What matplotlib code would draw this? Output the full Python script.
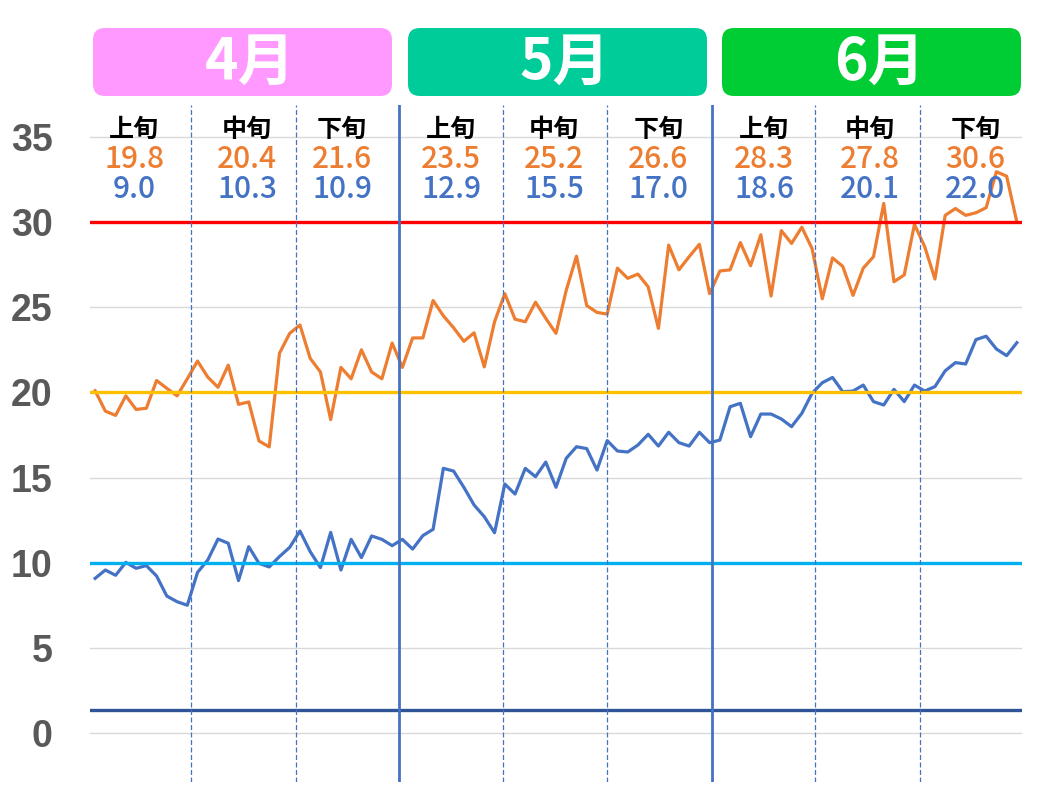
import matplotlib.pyplot as plt
from matplotlib.patches import FancyBboxPatch

# データ（4/1〜6/30 の日ごとの最高・最低気温）
max_temp = [20.1, 18.9, 18.65, 19.8, 19.0, 19.07, 20.7, 20.24, 19.8, 20.8,
            21.84, 20.9, 20.3, 21.6, 19.3, 19.44, 17.15, 16.8, 22.3, 23.47,
            23.96, 22.0, 21.2, 18.4, 21.47, 20.8, 22.5, 21.2, 20.8, 22.9,
            21.47, 23.2, 23.2, 25.4, 24.5, 23.8, 23.0, 23.5, 21.5, 24.15,
            25.8, 24.3, 24.15, 25.3, 24.35, 23.47, 26.0, 28.0, 25.1, 24.7,
            24.6, 27.3, 26.7, 26.95, 26.2, 23.76, 28.65, 27.2, 27.97, 28.7, 25.8,
            27.13, 27.2, 28.8, 27.44, 29.26, 25.66, 29.5, 28.75, 29.7, 28.45,
            25.5, 27.9, 27.4, 25.7, 27.3, 27.97, 31.1, 26.5, 26.9, 29.87,
            28.56, 26.66, 30.4, 30.8, 30.4, 30.55, 30.85, 32.96, 32.7, 30.0]
min_temp = [9.08, 9.57, 9.26, 10.02, 9.67, 9.83, 9.22, 8.04, 7.71, 7.5,
            9.43, 10.16, 11.39, 11.14, 8.95, 10.94, 9.96, 9.75, 10.36, 10.9,
            11.86, 10.65, 9.71, 11.78, 9.57, 11.37, 10.3, 11.57, 11.37, 11.0,
            11.37, 10.8, 11.59, 11.96, 15.54, 15.38, 14.43, 13.39, 12.7, 11.76,
            14.62, 14.03, 15.54, 15.05, 15.91, 14.43, 16.13, 16.81, 16.7, 15.44,
            17.17, 16.56, 16.5, 16.91, 17.54, 16.85, 17.66, 17.05, 16.85, 17.66, 17.05,
            17.2, 19.16, 19.36, 17.4, 18.73, 18.73, 18.44, 17.99, 18.77, 19.95,
            20.57, 20.88, 20.04, 20.08, 20.43, 19.46, 19.26, 20.18, 19.46, 20.43,
            20.08, 20.34, 21.27, 21.75, 21.67, 23.1, 23.3, 22.55, 22.16, 22.92]

months = ['4月', '5月', '6月']
month_colors = ['#FF99FF', '#00CC99', '#00CC33']
periods = ['上旬', '中旬', '下旬'] * 3
max_avg = ['19.8', '20.4', '21.6', '23.5', '25.2', '26.6', '28.3', '27.8', '30.6']
min_avg = ['9.0', '10.3', '10.9', '12.9', '15.5', '17.0', '18.6', '20.1', '22.0']
ref_lines = [30, 20, 10, 1.35]
ref_colors = ['#FF0000', '#FFC000', '#00B0F0', '#2F5597']

# 位置（日のインデックス）
dash_pos = [9.4, 19.6, 39.8, 50.0, 70.3, 80.5]
month_pos = [29.7, 60.2]
label_pos = [3.81, 14.84, 24.12, 34.77, 44.82, 54.98, 65.33, 75.68, 85.94]

jp = ['Noto Sans CJK JP', 'DejaVu Sans']

fig = plt.figure(figsize=(10.6, 8), dpi=100)
ax = fig.add_axes([90 / 1060, 1 - 782 / 800, 932 / 1060, 677 / 800])

days = range(len(max_temp))
ax.plot(days, max_temp, color='#ED7D31', lw=2.3, zorder=3)
ax.plot(days, min_temp, color='#4472C4', lw=2.3, zorder=3)

for y, c in zip(ref_lines, ref_colors):
    ax.axhline(y, color=c, lw=2.4, zorder=4)
for x in dash_pos:
    ax.axvline(x, color='#4472C4', lw=0.9, ls=(0, (4, 2)), zorder=4)
for x in month_pos:
    ax.axvline(x, color='#4472C4', lw=2, zorder=4)

for x, p, a, b in zip(label_pos, periods, max_avg, min_avg):
    ax.text(x, 35.4, p, ha='center', va='center', fontsize=18,
            fontweight='bold', family=jp, color='black')
    ax.text(x, 33.68, a, ha='center', va='center', fontsize=21.5,
            family=jp, color='#ED7D31', fontweight='medium')
    ax.text(x, 31.9, b, ha='center', va='center', fontsize=21.5,
            family=jp, color='#4472C4', fontweight='medium')

ax.set_xlim(-0.5, 90.5)
ax.set_ylim(-2.88, 36.88)
ax.set_yticks(range(0, 36, 5))
ax.set_xticks([])
ax.tick_params(axis='y', length=0, pad=27)
for t in ax.get_yticklabels():
    t.set_fontsize(27)
    t.set_fontweight('bold')
    t.set_color('#595959')
    t.set_family('Liberation Sans')
ax.grid(True, axis='y', color='#D9D9D9', lw=1, zorder=0)
for s in ax.spines.values():
    s.set_visible(False)

# 月の見出し
top = fig.add_axes([0, 0, 1, 1], facecolor='none')
top.set_xlim(0, 1060)
top.set_ylim(800, 0)
top.axis('off')
box_x = [93, 408, 722]
for bx, m, c in zip(box_x, months, month_colors):
    top.add_patch(FancyBboxPatch((bx, 28), 299, 68,
                                 boxstyle='round,pad=0,rounding_size=12',
                                 facecolor=c, edgecolor='none'))
    top.text(bx + 157, 63, m, ha='center', va='center', fontsize=41,
             fontweight='bold', family=jp, color='white')

fig.savefig('out.png', dpi=100)
